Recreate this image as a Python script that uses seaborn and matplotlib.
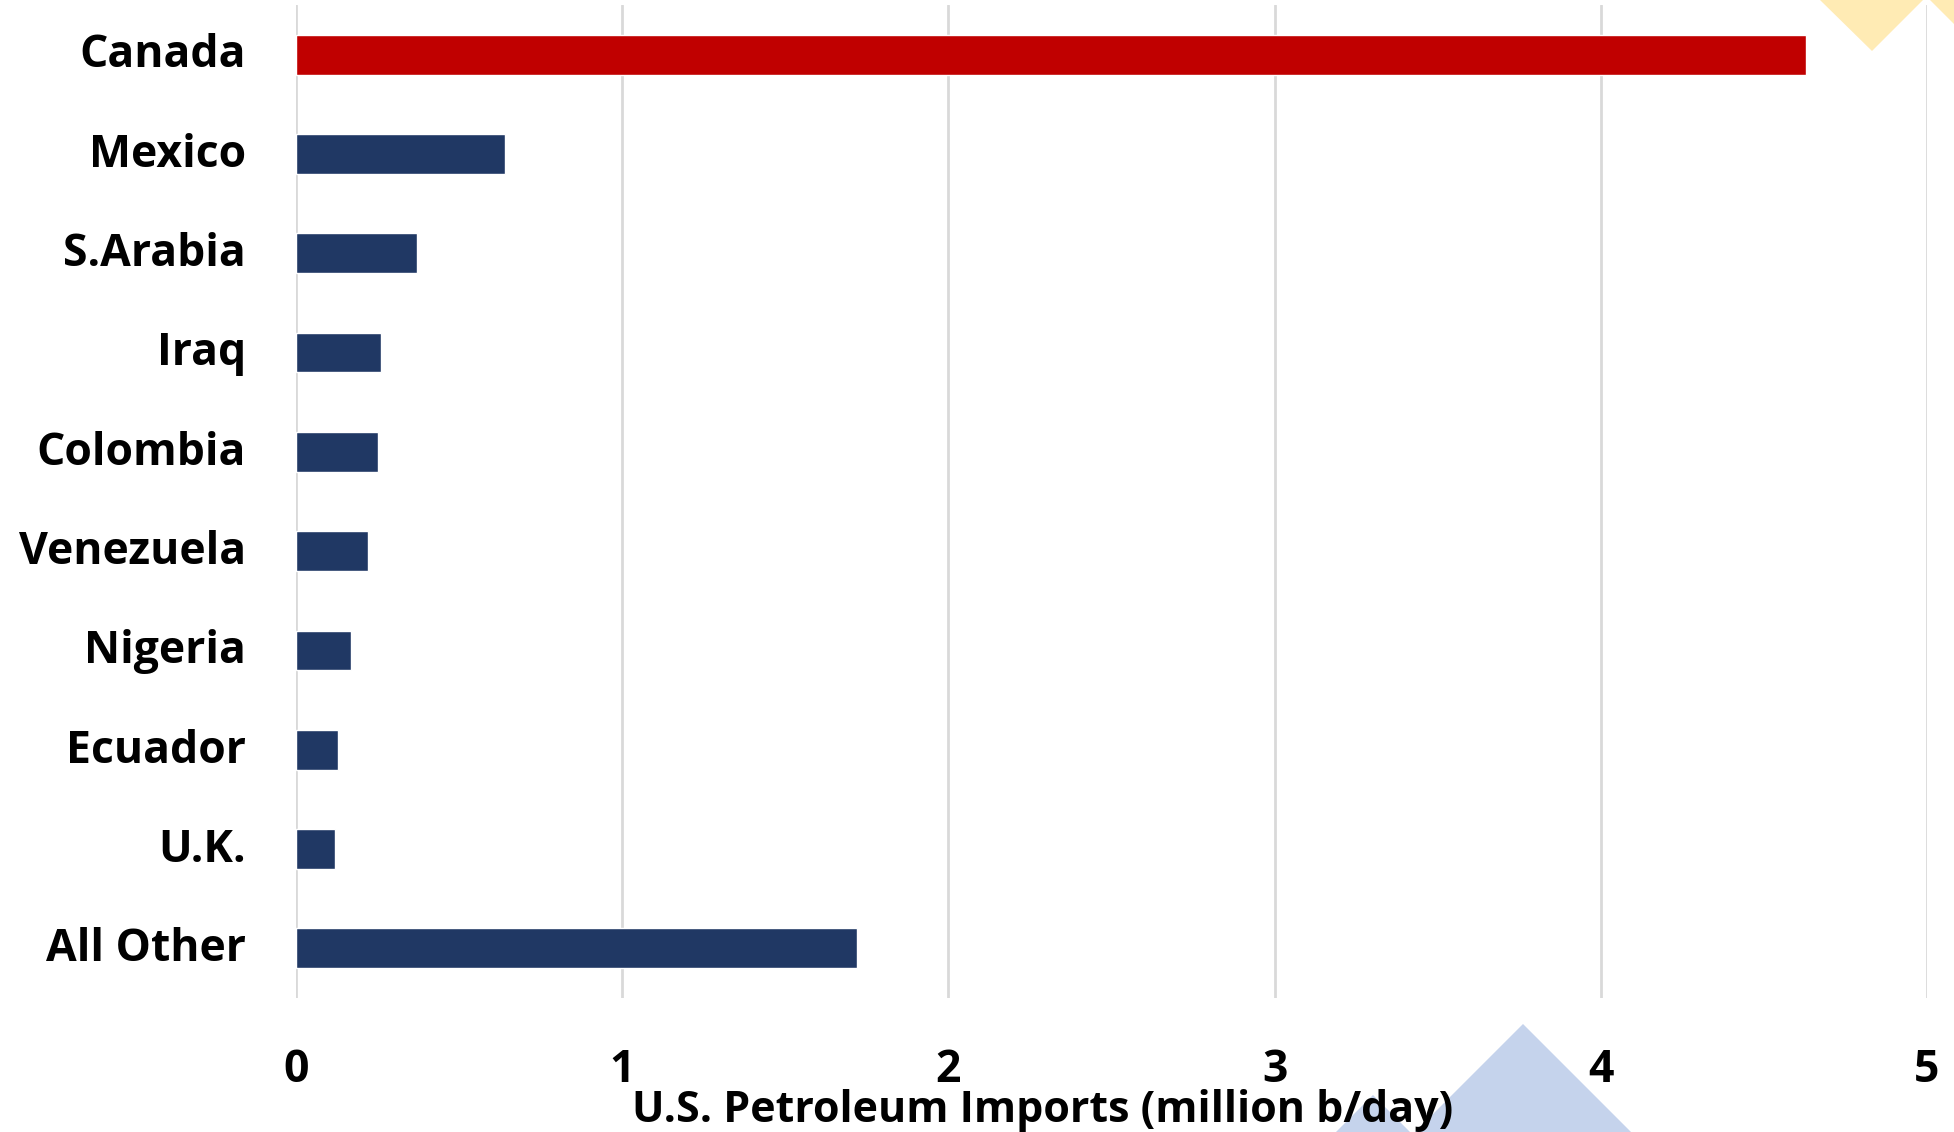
import matplotlib
matplotlib.use("Agg")
import matplotlib.pyplot as plt
from matplotlib.patches import Polygon
from matplotlib.transforms import ScaledTranslation
import seaborn as sns
import pandas as pd

countries = ["Canada", "Mexico", "S.Arabia", "Iraq", "Colombia", "Venezuela",
             "Nigeria", "Ecuador", "U.K.", "All Other"]
imports = [4.63, 0.64, 0.37, 0.26, 0.25, 0.22, 0.17, 0.13, 0.12, 1.72]
highlight = ["Canada", "Other", "Other", "Other", "Other", "Other",
             "Other", "Other", "Other", "Other"]
x_ticks = [0, 1, 2, 3, 4, 5]
x_label = "U.S. Petroleum Imports (million b/day)"

df = pd.DataFrame({"country": countries, "imports": imports, "group": highlight})

sns.set_theme(style="white")
plt.rcParams["font.family"] = ["Open Sans", "DejaVu Sans"]

W, H = 1954, 1132
fig = plt.figure(figsize=(W / 100, H / 100), dpi=100)
fig.patch.set_facecolor("white")

# decorative shapes (figure pixel coords, y from top)
def tri(pts, color):
    fig.patches.append(Polygon([(x / W, 1 - y / H) for x, y in pts], closed=True,
                               transform=fig.transFigure, facecolor=color,
                               edgecolor="none", zorder=0))

tri([(1820, 0), (1923, 0), (1872, 51)], "#FFEBB4")
tri([(1930, 0), (1954, 24), (1954, 0)], "#FFEBB4")
tri([(1415, 1132), (1523, 1024), (1631, 1132)], "#C5D3EC")
tri([(1336, 1132), (1373, 1095), (1410, 1132)], "#C5D3EC")

ax = fig.add_axes([296 / W, 1 - 998 / H, (1927 - 296) / W, (998 - 5) / H])
ax.set_facecolor("none")

sns.barplot(data=df, x="imports", y="country", hue="group",
            palette={"Canada": "#C00000", "Other": "#203864"},
            orient="h", width=0.4, dodge=False, legend=False, ax=ax,
            saturation=1)

ax.set_xlim(0, 5)
ax.set_ylim(9.5, -0.5)
ax.set_xticks(x_ticks)
ax.set_xticklabels([str(t) for t in x_ticks])
ax.grid(axis="x", color="#D9D9D9", linewidth=2)
ax.set_axisbelow(True)
for s in ax.spines.values():
    s.set_visible(False)

ax.tick_params(axis="y", length=0, pad=36, labelsize=32)
ax.tick_params(axis="x", length=0, pad=36, labelsize=32)
up = ScaledTranslation(0, 3 / 72, fig.dpi_scale_trans)
for lab in ax.get_yticklabels():
    lab.set_fontweight("bold")
    lab.set_color("black")
    lab.set_transform(lab.get_transform() + up)
for lab in ax.get_xticklabels():
    lab.set_fontweight("bold")
    lab.set_color("black")

ax.set_ylabel("")
ax.set_xlabel("")
fig.text(1043 / W, 1 - 1111 / H, x_label, ha="center", va="center",
         fontsize=31, fontweight="bold", color="black", zorder=5)

fig.savefig("out.png", dpi=100)
